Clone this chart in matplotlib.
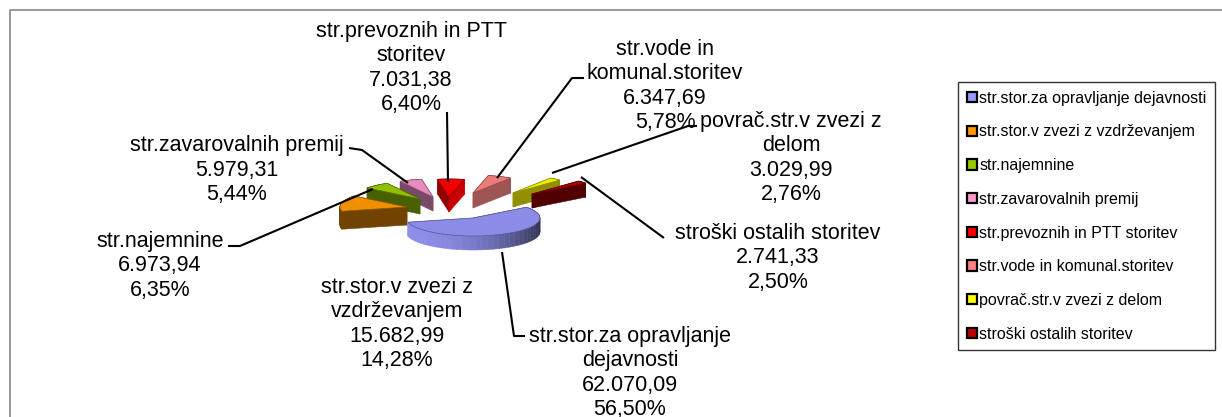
import numpy as np
import matplotlib
matplotlib.use('Agg')
import matplotlib.pyplot as plt
from matplotlib.patches import Patch, Polygon

plt.rcParams['font.family'] = ['Liberation Sans', 'DejaVu Sans']

# podatki
categories = ['str.stor.za opravljanje dejavnosti', 'str.stor.v zvezi z vzdrževanjem',
              'str.najemnine', 'str.zavarovalnih premij', 'str.prevoznih in PTT storitev',
              'str.vode in komunal.storitev', 'povrač.str.v zvezi z delom', 'stroški ostalih storitev']
values = [62070.09, 15682.99, 6973.94, 5979.31, 7031.38, 6347.69, 3029.99, 2741.33]
value_labels = ['62.070,09', '15.682,99', '6.973,94', '5.979,31', '7.031,38', '6.347,69', '3.029,99', '2.741,33']
percent_labels = ['56,50%', '14,28%', '6,35%', '5,44%', '6,40%', '5,78%', '2,76%', '2,50%']
label_names = ['str.stor.za opravljanje\ndejavnosti', 'str.stor.v zvezi z\nvzdrževanjem', 'str.najemnine',
               'str.zavarovalnih premij', 'str.prevoznih in PTT\nstoritev', 'str.vode in\nkomunal.storitev',
               'povrač.str.v zvezi z\ndelom', 'stroški ostalih storitev']

# barve: zgornja ploskev, stranska ploskev
top_colors = ['#8c8ce8', '#f09000', '#8fbf00', '#e88cc0', '#f00000', '#ee7a7a', '#f0f000', '#b00000']
side_colors = ['#8080d8', '#704400', '#486000', '#784a66', '#900000', '#a05555', '#909000', '#500000']
legend_colors = ['#9999ff', '#ff9900', '#99cc00', '#ff99cc', '#ff0000', '#ff8080', '#ffff00', '#c00000']

# postavitev v pikslih slike
W, H = 1222, 417
first_angle = 53
rx, ry = 67, 18
depths = [14, 18, 15, 14, 15, 15, 14, 14]
# premik vrha vsakega izreza (kot explode pri pie)
apex = [(473, 218), (407, 207), (420, 199), (433, 197), (449, 197), (473, 193), (513, 193), (532, 194)]
label_pos = [(630, 373), (397, 324), (160, 266), (237, 170), (411, 68), (665, 86), (791, 158), (778, 258)]
leaders = [[(525, 336), (514, 336), (502, 252)], None, [(228, 246), (240, 246), (373, 189)],
           [(349, 148), (362, 150), (408, 183)], [(447, 112), (448, 182)],
           [(584, 78), (572, 78), (497, 178)], [(697, 126), (688, 126), (552, 173)], [(664, 238), (581, 177)]]

fig = plt.figure(figsize=(W / 100, H / 100), dpi=100)
ax = fig.add_axes([0, 0, 1, 1])
ax.set_xlim(0, W)
ax.set_ylim(H, 0)
ax.axis('off')

# okvir
ax.plot([10, 10, W], [H, 10, 10], color='#868686', lw=1.2)


def shade(hex_color, f):
    return tuple(c * f for c in matplotlib.colors.to_rgb(hex_color))


fractions = np.array(values) / np.sum(values)
edges = first_angle + 360 * np.concatenate([[0], np.cumsum(fractions)])

# od zadaj naprej
order = [3, 4, 5, 6, 7, 2, 1, 0]
for i in order:
    a = np.radians(np.linspace(edges[i], edges[i + 1], 40))
    ax0, ay0 = apex[i]
    xs = ax0 + rx * np.sin(a)
    ys = ay0 - ry * np.cos(a)
    px = np.concatenate([[ax0], xs])
    py = np.concatenate([[ay0], ys])
    n = len(px)
    depth = depths[i]
    quads = []
    for k in range(n):
        m = (k + 1) % n
        quads.append(((py[k] + py[m]) / 2, k, m))
    for _, k, m in sorted(quads):
        q = [(px[k], py[k]), (px[m], py[m]), (px[m], py[m] + depth), (px[k], py[k] + depth)]
        c = side_colors[i]
        if i == 0:
            # preliv na zunanji strani
            t = np.clip(((px[k] + px[m]) / 2 - (ax0 - rx)) / (2 * rx), 0, 1)
            c = shade('#9a9aff', 0.92 - 0.58 * t ** 2.2)
        elif i == 4 and k == n - 1:
            c = '#c80000'
        ax.add_patch(Polygon(q, closed=True, facecolor=c, edgecolor=c, lw=0.4))
    ax.add_patch(Polygon(np.column_stack([px, py]), closed=True, facecolor=top_colors[i],
                         edgecolor=shade(top_colors[i], 0.6), lw=0.5))

# oznake
for i in range(len(values)):
    x, y = label_pos[i]
    ax.text(x, y, label_names[i] + '\n' + value_labels[i] + '\n' + percent_labels[i],
            ha='center', va='center', fontsize=15.5, color='black', linespacing=1.22)
    if leaders[i] is not None:
        lx, ly = zip(*leaders[i])
        ax.plot(lx, ly, color='black', lw=1.5, solid_capstyle='butt')

# legenda
handles = [Patch(facecolor=c, edgecolor='black', lw=1.6) for c in legend_colors]
leg = fig.legend(handles, categories, loc='upper left',
                 bbox_to_anchor=(958 / W, 1 - 82 / H), fontsize=11.5, frameon=True,
                 fancybox=False, edgecolor='#333333', framealpha=1, borderaxespad=0,
                 handlelength=0.62, handleheight=0.62, handletextpad=0.15,
                 labelspacing=1.17, borderpad=0.55)
leg.get_frame().set_linewidth(1.0)

plt.savefig('out.png', dpi=100)
